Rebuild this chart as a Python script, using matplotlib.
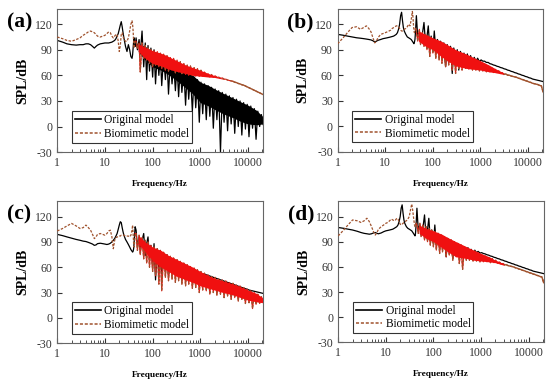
"""SPL spectra of the original and biomimetic models, four cases (a)-(d)."""

import matplotlib

matplotlib.use("Agg")
import matplotlib.pyplot as plt
from matplotlib.lines import Line2D

plt.rcParams["font.family"] = ["Liberation Serif", "DejaVu Serif"]
plt.rcParams["axes.unicode_minus"] = False

# frequency grid (Hz): low part follows the resonances, high part the dense ripple
FREQ = [
    1, 1.3, 1.6, 2, 2.5, 3, 3.5, 4, 4.5, 5, 5.5, 6, 6.5, 7, 8, 9, 10, 11, 12, 13,
    14, 15, 16, 17, 18, 19, 20, 21, 22, 23, 24, 25, 27, 29, 31, 33, 35, 37, 38, 39,
    40, 41, 42, 43,
    45, 48, 52, 55, 60, 65, 70, 75, 80, 86, 92, 100, 107, 115, 125, 135, 145, 155,
    170, 185, 200, 215, 235, 255, 275, 300, 325, 350, 380, 410, 450, 490, 530, 570,
    620, 680, 740, 800, 870, 950, 1030, 1120, 1220, 1330, 1450, 1580, 1720, 1870,
    2040, 2220, 2420, 2640, 2880, 3140, 3420, 3720, 4050, 4420, 4820, 5250, 5720,
    6230, 6790, 7400, 8070, 8800, 9590, 10450, 11400, 12400, 13500, 14700, 16000,
    17500, 19000, 20700, 22000,
]

# frequencies (Hz) where the solid body of the dense ripple band was read
BAND_F = [50, 70, 100, 150, 200, 300, 500, 700, 1000, 1500, 2000, 3000, 5000,
          7000, 10000, 15000, 20000]

# SPL (dB) -- (a)
orig_a = [
    101, 99, 97, 96, 95.5, 96, 96, 97, 97, 96, 94, 92, 94, 95.5, 97, 97.5, 98, 98, 98, 98.5,
    99, 100, 101, 103, 106, 109, 114, 119, 123, 117, 110, 104, 94, 88, 96, 90, 82, 80, 84, 92,
    100, 104, 98, 94,
    104, 90, 102, 85, 112, 70, 98, 55, 95, 65, 92, 58, 90, 50, 86, 60, 84, 48,
    82, 55, 80, 38, 77, 50, 74, 42, 72, 35, 70, 40, 67, 25, 64, 32,
    61, 18, 58, 22, 55, 5, 52, 15, 50, 8, 48, 12, 46, -2,
    44, 8, 42, -30, 40, 5, 38, -5, 36, 3, 34, -8, 32,
    0, 30, -10, 28, -3, 26, -12, 24, -2, 21, -15, 18,
    0, 14, 2, 8,
]
bio_a = [
    105, 103, 101, 100, 102, 104, 107, 109, 111, 112, 111, 110, 108, 106, 105, 106, 107, 109, 111, 110,
    106, 104, 106, 108, 108, 100, 88, 95, 108, 110, 106, 102, 100, 100, 104, 112, 120, 124, 120, 112,
    100, 92, 98, 100,
    100, 92, 98, 64, 98, 80, 95, 78, 92, 74, 90, 70, 89, 72, 88, 70, 86, 68,
    85, 66, 83, 65, 81, 66, 80, 63, 78, 64, 76, 62, 74, 61, 72, 60,
    71, 60, 69, 59, 68, 59, 66, 59, 64, 59, 62, 58, 61, 58,
    59.5, 57.5, 58, 56.5, 57, 55.5, 55.5, 54.5, 54, 53.5, 53, 52, 51.5,
    50.5, 50, 49, 48.5, 47.5, 46.5, 45.5, 44.5, 43.5, 42.5, 41.5, 40.5,
    39.5, 38.5, 37.5, 37,
]
orig_a_top = [96, 94, 88, 84, 80, 74, 66, 60, 52, 48, 44, 39, 33, 29, 25, 19, 12]
orig_a_bot = [88, 78, 70, 66, 62, 55, 45, 38, 28, 24, 20, 15, 10, 6, 3, 2, 3]
bio_a_top = [97, 93, 89, 86, 83, 78, 72, 69, 66, 62, 59.5, 56, 52, 49, 46, 41, 38]
bio_a_bot = [88, 80, 74, 71, 68, 65, 62, 60, 59, 58, 57.5, 55.5, 52, 49, 46, 41, 38]

# SPL (dB) -- (b)
orig_b = [
    108, 107, 106, 105, 104, 103.5, 103, 102.5, 102, 101.5, 100.5, 99, 100, 101, 102, 103, 103.5, 104, 104.5, 105,
    105.5, 106, 107, 108, 110, 114, 120, 130, 134, 124, 116, 112, 108, 105, 104, 103, 102, 100, 99, 98,
    97, 99, 102, 110,
    130, 105, 110, 100, 108, 122, 98, 105, 118, 92, 106, 88, 112, 90, 102, 85, 100, 82,
    98, 70, 96, 78, 94, 62, 92, 76, 90, 66, 88, 76, 86, 70, 85, 76,
    83, 74, 81, 76, 80, 76, 78, 76.5, 76.5, 75, 75, 73.5, 73, 72,
    71.5, 70.5, 70, 69, 68.5, 67.5, 67, 66, 65.5, 64.5, 64, 63, 62.5,
    61.5, 61, 60, 59.5, 58.5, 58, 57, 56.5, 55.5, 55, 54.5, 54,
    53.5, 53, 52.5, 52,
]
bio_b = [
    97, 104, 110, 116, 117, 114, 116, 118, 115, 111, 104, 98, 100, 104, 108, 109, 110, 111, 112, 113,
    115, 116, 117, 118, 118, 117, 115, 113, 112, 112, 113, 114, 115, 117, 120, 118, 125, 135, 130, 120,
    112, 110, 112, 115,
    112, 100, 114, 96, 110, 94, 108, 90, 106, 82, 104, 86, 102, 80, 100, 78, 98, 74,
    96, 70, 94, 72, 92, 66, 90, 62, 88, 68, 86, 66, 84, 68, 82, 67,
    80, 66, 79, 66, 77, 65, 75, 65, 73, 64, 71, 64, 69, 63,
    67, 63, 65, 62, 63, 61, 61.5, 60, 60, 59, 58.5, 58, 57.5,
    56.5, 56, 55, 54.5, 53.5, 53, 52, 51.5, 50.5, 50, 49.5, 49,
    48, 47.5, 40, 46,
]
bio_b_top = [112, 108, 104, 100, 96, 90, 85, 81, 77, 72, 68, 63, 58.5, 56, 52.5, 49, 47.5]
bio_b_bot = [100, 94, 90, 82, 77, 71, 68, 67, 66, 64, 63, 61, 58, 56, 52, 49, 47.5]

# SPL (dB) -- (c)
orig_c = [
    99, 97.5, 96, 94.5, 93, 92, 91, 90.5, 89.5, 88.5, 87.5, 86, 86.5, 88, 88.5, 88, 87.5, 87, 87.5, 88.5,
    90, 92, 94, 97, 100, 105, 110, 114, 113, 107, 102, 98, 93, 90, 87, 84, 81, 79, 78, 79,
    82, 90, 100, 108,
    104, 85, 95, 80, 92, 100, 74, 88, 96, 70, 86, 60, 88, 45, 82, 55, 80, 52,
    77, 60, 75, 50, 72, 56, 70, 52, 68, 55, 66, 54, 64, 54, 62, 53,
    60, 53, 58, 52, 56, 52, 53, 52, 52, 51, 50.5, 49.5, 49, 48,
    47.5, 46.5, 46, 45, 44.5, 43.5, 43, 42, 41.5, 40.5, 40, 39, 38.5,
    37.5, 37, 36, 35.5, 34.5, 34, 33, 32.5, 32, 31.5, 31, 30.5,
    30, 29.5, 29, 28.5,
]
bio_c = [
    103, 106, 109, 112, 109, 106, 107, 110, 107, 104, 99, 94, 96, 99, 100, 99, 98, 100, 103, 104,
    96, 82, 92, 95, 96, 96, 97, 97, 98, 98, 98, 98, 97, 97, 97, 96, 98, 104, 110, 100,
    88, 84, 90, 100,
    100, 80, 98, 75, 95, 70, 92, 65, 90, 60, 86, 55, 84, 50, 82, 40, 80, 32,
    78, 48, 75, 44, 73, 46, 71, 42, 69, 44, 67, 40, 65, 38, 63, 40,
    61, 35, 59, 36, 57, 30, 55, 33, 53, 32, 51, 28, 49, 30,
    48, 27, 46, 28, 45, 24, 44, 26, 42, 22, 41, 24, 39,
    20, 38, 22, 36, 17, 34, 18, 32, 11, 30, 16, 28,
    17, 25, 18, 22,
]
bio_c_top = [98, 90, 84, 80, 75, 70, 64, 60, 55, 50, 47, 44, 40, 37, 33, 29, 24]
bio_c_bot = [88, 78, 68, 60, 56, 50, 45, 42, 38, 35, 33, 30, 27, 24, 21, 19, 18]

# SPL (dB) -- (d)
orig_d = [
    107, 106, 105, 104, 102.5, 101, 100, 99.5, 99, 99.5, 100.5, 101, 100, 99.5, 100.5, 102, 103, 103.5, 104, 104.5,
    105, 106, 107, 108, 110, 114, 120, 130, 134, 124, 116, 112, 108, 106, 105, 104, 103, 101, 100, 99,
    98, 97, 100, 108,
    130, 104, 110, 100, 106, 122, 96, 104, 118, 92, 104, 88, 110, 86, 100, 82, 98, 84,
    96, 72, 94, 80, 92, 70, 90, 78, 88, 72, 86, 78, 84, 74, 83, 77,
    81, 76, 80, 77, 78.5, 76.5, 77, 76, 75.5, 74.5, 74, 73, 72.5, 71.5,
    71, 70, 69.5, 68.5, 68, 67, 66.5, 65.5, 65, 64, 63.5, 62.5, 62,
    61, 60.5, 59.5, 59, 58, 57.5, 56.5, 56, 55, 54.5, 54, 53.5,
    53, 52.5, 52, 51.5,
]
bio_d = [
    97, 104, 110, 116, 115, 113, 115, 118, 114, 108, 102, 98, 101, 105, 108, 110, 112, 113, 115, 117,
    116, 115, 116, 118, 117, 114, 111, 110, 111, 112, 113, 114, 115, 117, 120, 128, 135, 126, 120, 115,
    110, 108, 110, 112,
    110, 100, 112, 96, 110, 92, 108, 90, 106, 86, 104, 84, 102, 80, 100, 76, 98, 78,
    96, 72, 94, 74, 92, 68, 90, 72, 88, 64, 86, 57, 84, 68, 82, 68,
    80, 67, 79, 67, 77, 66, 75, 66, 73, 66, 71, 65, 70, 65,
    68, 64.5, 66, 63.5, 64, 62.5, 62.5, 61.5, 61, 60.5, 60, 59, 58.5,
    57.5, 57, 56, 55.5, 54.5, 54, 53, 52.5, 51.5, 51, 50, 49.5,
    48.5, 48, 41, 47,
]
bio_d_top = [110, 106, 103, 99, 95, 90, 84, 80, 76, 72, 68, 64, 60, 57, 54, 50, 48]
bio_d_bot = [100, 94, 90, 83, 78, 72, 70, 68, 67, 66, 65, 62, 59.5, 57, 53.5, 50, 48]

# highest frequency (Hz) at which each biomimetic trace still looks red and dense
dense_end = [4820, 3140, 22000, 3140]

PANELS = [
    ("(a)", orig_a, bio_a, (orig_a_top, orig_a_bot), (bio_a_top, bio_a_bot),
     [0.104, 0.606, 0.375, 0.371]),
    ("(b)", orig_b, bio_b, None, (bio_b_top, bio_b_bot),
     [0.614, 0.607, 0.374, 0.370]),
    ("(c)", orig_c, bio_c, None, (bio_c_top, bio_c_bot),
     [0.104, 0.111, 0.375, 0.367]),
    ("(d)", orig_d, bio_d, None, (bio_d_top, bio_d_bot),
     [0.615, 0.113, 0.374, 0.365]),
]
YTICKS = [-30, 0, 30, 60, 90, 120]
XTICKS = [1, 10, 100, 1000, 10000]
N_LOW = 44  # points before the dense ripple starts

BIO_LINE = "#a0522d"
BIO_FILL = "#f01010"


def draw_panel(fig, label, orig, bio, orig_band, bio_band, f_end, rect):
    ax = fig.add_axes(rect)
    i_end = FREQ.index(f_end) + 1
    band_end = sum(1 for f in BAND_F if f <= f_end)

    if orig_band is not None:
        ax.fill_between(BAND_F, orig_band[1], orig_band[0], color="black",
                        lw=0, zorder=1)
    ax.plot(FREQ, orig, color="black", lw=0.9, zorder=2)
    ax.plot(FREQ[N_LOW - 1:i_end], bio[N_LOW - 1:i_end], color=BIO_FILL,
            lw=0.8, zorder=2.5)
    ax.plot(FREQ, bio, color=BIO_LINE, lw=0.9, ls=(0, (2, 1.2)), zorder=3)
    # smooth tail: overlapping dense samples read as a solid brown trace
    ax.plot(FREQ[i_end - 1:], bio[i_end - 1:], color=BIO_LINE, lw=1.0, zorder=3)
    # solid red body of the dense ripple sits over the dashed trace
    ax.fill_between(BAND_F[:band_end], bio_band[1][:band_end],
                    bio_band[0][:band_end], color=BIO_FILL, lw=0, zorder=4)

    ax.set_xscale("log")
    ax.set_xlim(1, 21000)
    ax.set_ylim(-30, 138)
    ax.set_xticks(XTICKS)
    ax.set_xticklabels([str(t) for t in XTICKS])
    ax.set_yticks(YTICKS)
    ax.tick_params(which="both", direction="in", labelsize=8.5, colors="#333333")
    ax.tick_params(which="major", length=3.5)
    ax.tick_params(which="minor", length=2)
    for sp in ax.spines.values():
        sp.set_color("#666666")
        sp.set_linewidth(0.8)

    ax.set_xlabel("Frequency/Hz", fontsize=6.7, fontweight="bold", labelpad=8)
    ax.set_ylabel("SPL/dB", fontsize=10, fontweight="bold", labelpad=4)
    ax.text(-0.245, 0.905, label, transform=ax.transAxes, fontsize=15.5,
            fontweight="bold", va="center", ha="left")

    handles = [
        Line2D([], [], color="black", lw=1.2),
        Line2D([], [], color=BIO_LINE, lw=1.1, ls=(0, (2, 1.2))),
    ]
    leg = ax.legend(handles, ["Original model", "Biomimetic model"],
                    loc="lower left", bbox_to_anchor=(0.07, 0.065),
                    fontsize=8.3, frameon=True, fancybox=False,
                    handlelength=2.3, handletextpad=0.3, labelspacing=0.15,
                    borderpad=0.25, borderaxespad=0)
    leg.get_frame().set_edgecolor("black")
    leg.get_frame().set_linewidth(0.8)
    return ax


def main():
    fig = plt.figure(figsize=(5.5, 3.86), dpi=100)
    for (label, orig, bio, orig_band, bio_band, rect), f_end in zip(PANELS, dense_end):
        draw_panel(fig, label, orig, bio, orig_band, bio_band, f_end, rect)
    fig.savefig("out.png", dpi=100)


if __name__ == "__main__":
    main()
